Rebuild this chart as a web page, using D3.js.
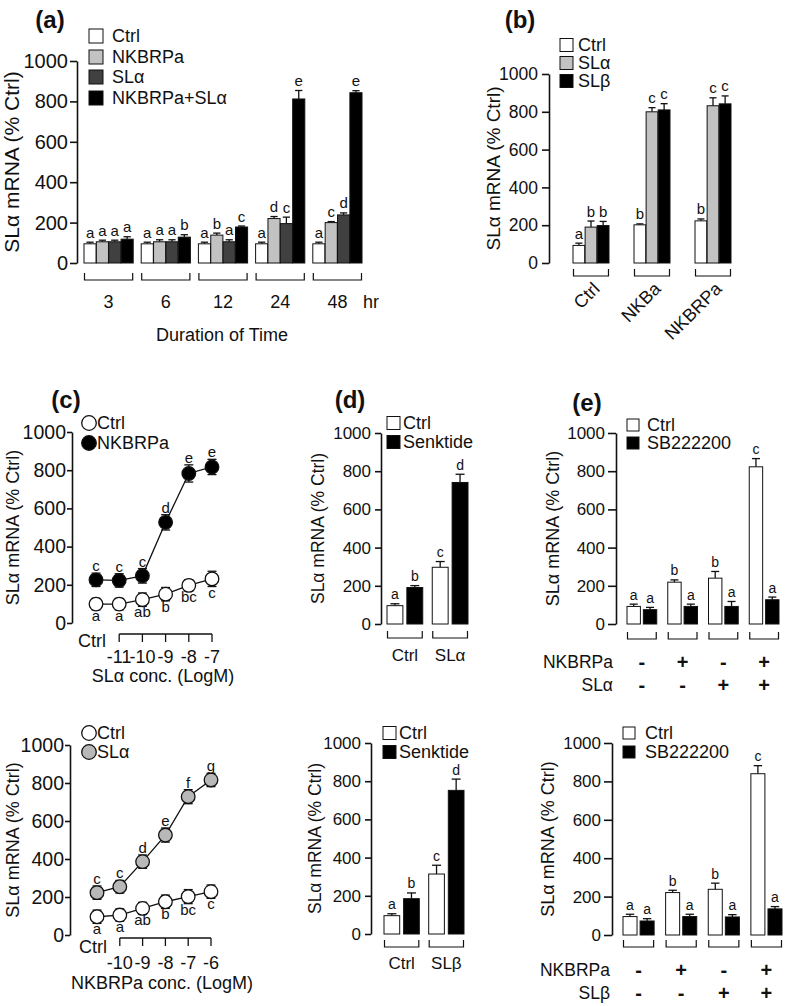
<!DOCTYPE html>
<html><head><meta charset="utf-8">
<script src="https://cdn.jsdelivr.net/npm/d3@7"></script>
<style>body{margin:0;background:#fff}</style>
</head><body>
<script>
const FONT = "'Liberation Sans', Arial, Helvetica, sans-serif";
const INK = "#111";
const yTicks = [0, 200, 400, 600, 800, 1000];
const yTitle = "SLα mRNA (% Ctrl)";

// ---------- Panel (a) ----------
const aGroups = ["3", "6", "12", "24", "48"];
const aSeries = ["Ctrl", "NKBRPa", "SLα", "NKBRPa+SLα"];
const aCtrl = [95, 95, 95, 95, 95];
const aCtrlErr = [8, 8, 8, 8, 8];
const aNKBRPa = [105, 105, 138, 220, 200];
const aNKBRPaErr = [8, 10, 10, 10, 5];
const aSLa = [105, 105, 105, 195, 238];
const aSLaErr = [8, 10, 10, 32, 10];
const aComb = [118, 128, 178, 812, 843];
const aCombErr = [12, 12, 5, 42, 10];
const aLetCtrl = ["a", "a", "a", "a", "a"];
const aLetNKBRPa = ["a", "a", "b", "d", "c"];
const aLetSLa = ["a", "a", "a", "c", "d"];
const aLetComb = ["a", "b", "c", "e", "e"];

// ---------- Panel (b) ----------
const bGroups = ["Ctrl", "NKBa", "NKBRPa"];
const bSeries = ["Ctrl", "SLα", "SLβ"];
const bCtrl = [93, 202, 223];
const bCtrlErr = [12, 5, 10];
const bSLa = [190, 800, 832];
const bSLaErr = [32, 22, 42];
const bSLb = [198, 810, 842];
const bSLbErr = [22, 33, 42];
const bLetCtrl = ["a", "b", "b"];
const bLetSLa = ["b", "c", "c"];
const bLetSLb = ["b", "c", "c"];

// ---------- Panel (c) top ----------
const cTopConc = ["Ctrl", "-11", "-10", "-9", "-8", "-7"];
const cTopSeries = ["Ctrl", "NKBRPa"];
const cTopCtrl = [99, 99, 122, 151, 197, 231];
const cTopCtrlErr = [30, 30, 35, 35, 30, 40];
const cTopNKBRPa = [226, 223, 247, 527, 783, 817];
const cTopNKBRPaErr = [35, 35, 38, 40, 45, 40];
const cTopLetCtrl = ["a", "a", "ab", "b", "bc", "c"];
const cTopLetNKBRPa = ["c", "c", "c", "d", "e", "e"];

// ---------- Panel (c) bottom ----------
const cBotConc = ["Ctrl", "-10", "-9", "-8", "-7", "-6"];
const cBotSeries = ["Ctrl", "SLα"];
const cBotCtrl = [96, 105, 140, 175, 202, 228];
const cBotCtrlErr = [35, 32, 32, 35, 37, 35];
const cBotSLa = [223, 254, 386, 526, 728, 816];
const cBotSLaErr = [35, 33, 35, 37, 37, 35];
const cBotLetCtrl = ["a", "a", "ab", "b", "bc", "c"];
const cBotLetSLa = ["c", "c", "d", "e", "f", "g"];

// ---------- Panel (d) ----------
const dSeries = ["Ctrl", "Senktide"];
const dTopGroups = ["Ctrl", "SLα"];
const dTopCtrl = [96, 297];
const dTopCtrlErr = [10, 30];
const dTopSenk = [191, 741];
const dTopSenkErr = [10, 43];
const dBotGroups = ["Ctrl", "SLβ"];
const dBotCtrl = [96, 314];
const dBotCtrlErr = [10, 46];
const dBotSenk = [185, 752];
const dBotSenkErr = [30, 59];
const dLetCtrl = ["a", "c"];
const dLetSenk = ["b", "d"];

// ---------- Panel (e) ----------
const eSeries = ["Ctrl", "SB222200"];
const eGroups = ["g1", "g2", "g3", "g4"];
const eNKBRPaSigns = ["-", "+", "-", "+"];
const eAgonistSigns = ["-", "-", "+", "+"];
const eTopCtrl = [92, 219, 240, 823];
const eTopCtrlErr = [12, 12, 35, 43];
const eTopSB = [75, 92, 92, 127];
const eTopSBErr = [12, 12, 26, 14];
const eBotCtrl = [96, 221, 238, 840];
const eBotCtrlErr = [12, 12, 32, 42];
const eBotSB = [73, 96, 94, 136];
const eBotSBErr = [12, 12, 12, 12];
const eLetCtrl = ["a", "b", "b", "c"];
const eLetSB = ["a", "a", "a", "a"];

const svg = d3.select("body").append("svg")
  .attr("width", 787).attr("height", 1006).style("display", "block");

function txt(g, x, y, s, size, opts = {}) {
  const t = g.append("text")
    .attr("font-family", FONT).attr("font-size", size).attr("fill", INK)
    .attr("text-anchor", opts.anchor || "middle")
    .attr("dy", opts.dy === undefined ? "0.35em" : opts.dy)
    .text(s);
  if (opts.rotate !== undefined) {
    t.attr("transform", `translate(${x},${y}) rotate(${opts.rotate})`);
  } else {
    t.attr("x", x).attr("y", y);
  }
  if (opts.weight) t.attr("font-weight", opts.weight);
  return t;
}

function yAxis(g, y, axisX, font, tickSize, tickPad) {
  const ax = g.append("g").attr("transform", `translate(${axisX},0)`)
    .call(d3.axisLeft(y).tickValues(yTicks).tickFormat(d3.format("d"))
      .tickSize(tickSize).tickSizeOuter(0).tickPadding(tickPad));
  ax.attr("font-family", FONT).attr("font-size", font);
  ax.select(".domain").attr("stroke", INK).attr("stroke-width", 1.6);
  ax.selectAll(".tick line").attr("stroke", INK).attr("stroke-width", 1.6);
  ax.selectAll(".tick text").attr("fill", INK);
  return ax;
}

function boxLegend(g, items, colors, bx, rows, size, tx, font) {
  items.forEach((it, i) => {
    g.append("rect").attr("x", bx).attr("y", rows[i] - size / 2)
      .attr("width", size).attr("height", size)
      .attr("fill", colors[i]).attr("stroke", INK).attr("stroke-width", 1);
    txt(g, tx, rows[i], it, font, { anchor: "start" });
  });
}

function barPanel(o) {
  const g = svg.append("g");
  const y = d3.scaleLinear().domain([0, 1000]).range([o.y0, o.y1]);
  const xg = d3.scaleBand().domain(o.groups).range(o.xRange).paddingInner(o.gPad).paddingOuter(0);
  const xs = d3.scaleBand().domain(o.series).range([0, xg.bandwidth()]).paddingInner(o.sPad).paddingOuter(0);
  yAxis(g, y, o.axisX, o.tickFont, o.tickSize, o.tickPad);
  txt(g, o.titleX, (o.y0 + o.y1) / 2, yTitle, o.titleFont, { rotate: -90 });
  const w = xs.bandwidth();
  const capW = Math.min(9, w * 0.6);
  o.series.forEach((s, si) => {
    const data = o.groups.map((gr, gi) => ({ gr, v: o.values[si][gi], e: o.errs[si][gi], l: o.letters[si][gi] }));
    const cx = d => xg(d.gr) + xs(s) + w / 2;
    const sg = g.append("g");
    sg.selectAll("line.eb").data(data).join(en => en.append("line").attr("class", "eb"))
      .attr("x1", cx).attr("x2", cx).attr("y1", d => y(d.v)).attr("y2", d => y(d.v + d.e))
      .attr("stroke", INK).attr("stroke-width", 1.3);
    sg.selectAll("line.cap").data(data).join(en => en.append("line").attr("class", "cap"))
      .attr("x1", d => cx(d) - capW / 2).attr("x2", d => cx(d) + capW / 2)
      .attr("y1", d => y(d.v + d.e)).attr("y2", d => y(d.v + d.e))
      .attr("stroke", INK).attr("stroke-width", 1.3);
    sg.selectAll("rect.bar").data(data).join(en => en.append("rect").attr("class", "bar"))
      .attr("x", d => xg(d.gr) + xs(s)).attr("y", d => y(d.v))
      .attr("width", w).attr("height", d => y(0) - y(d.v))
      .attr("fill", o.colors[si]).attr("stroke", INK).attr("stroke-width", 1);
    sg.selectAll("text.let").data(data).join(en => en.append("text").attr("class", "let"))
      .attr("x", cx).attr("y", d => y(d.v + d.e) - 4.5)
      .attr("text-anchor", "middle").attr("font-family", FONT)
      .attr("font-size", o.letterFont).attr("fill", INK).text(d => d.l);
  });
  g.selectAll("path.br").data(o.groups).join(en => en.append("path").attr("class", "br"))
    .attr("d", gr => {
      const x0 = xg(gr) + 0.5, x1 = xg(gr) + xg.bandwidth() - 0.5;
      return `M${x0},${o.bTop}V${o.bBot}H${x1}V${o.bTop}`;
    })
    .attr("fill", "none").attr("stroke", INK).attr("stroke-width", 1.2);
  boxLegend(g, o.series, o.colors, o.legX, o.legRows, o.legBox, o.legTextX, o.legFont);
  return { g, xg, y };
}

function linePanel(o) {
  const g = svg.append("g");
  const y = d3.scaleLinear().domain([0, 1000]).range([o.y0, o.y1]);
  const x = d3.scalePoint().domain(o.conc).range(o.xRange);
  yAxis(g, y, o.axisX, o.tickFont, o.tickSize, o.tickPad);
  txt(g, o.titleX, (o.y0 + o.y1) / 2, yTitle, o.titleFont, { rotate: -90 });
  const cs = o.conc.slice(1);
  g.append("line").attr("x1", x(cs[0])).attr("x2", x(cs[cs.length - 1]))
    .attr("y1", o.bY).attr("y2", o.bY).attr("stroke", INK).attr("stroke-width", 1.3);
  g.selectAll("line.xt").data(cs).join(en => en.append("line").attr("class", "xt"))
    .attr("x1", d => x(d)).attr("x2", d => x(d)).attr("y1", o.bY).attr("y2", o.bY + 8)
    .attr("stroke", INK).attr("stroke-width", 1.3);
  g.selectAll("text.xl").data(cs).join(en => en.append("text").attr("class", "xl"))
    .attr("x", d => x(d)).attr("y", o.labY).attr("dy", "0.35em").attr("text-anchor", "middle")
    .attr("font-family", FONT).attr("font-size", o.labFont).attr("fill", INK).text(d => d);
  txt(g, x(o.conc[0]) - 4, o.ctrlY, "Ctrl", o.labFont);
  txt(g, o.xTitleX, o.xTitleY, o.xTitle, o.labFont);

  const datas = o.series.map((s, si) => o.conc.map((c, ci) => ({
    c, v: o.values[si][ci], e: o.errs[si][ci], l: o.letters[si][ci]
  })));
  const line = d3.line().x(d => x(d.c)).y(d => y(d.v));
  datas.forEach(data => {
    g.append("path").datum(data).attr("d", line).attr("fill", "none")
      .attr("stroke", INK).attr("stroke-width", 1.3);
  });
  datas.forEach((data, si) => {
    const sg = g.append("g");
    sg.selectAll("line.eb").data(data).join(en => en.append("line").attr("class", "eb"))
      .attr("x1", d => x(d.c)).attr("x2", d => x(d.c))
      .attr("y1", d => y(d.v - d.e)).attr("y2", d => y(d.v + d.e))
      .attr("stroke", INK).attr("stroke-width", 1.3);
    [1, -1].forEach(sign => {
      sg.selectAll("line.cap" + (sign > 0 ? "u" : "d")).data(data)
        .join(en => en.append("line").attr("class", "cap" + (sign > 0 ? "u" : "d")))
        .attr("x1", d => x(d.c) - 4.5).attr("x2", d => x(d.c) + 4.5)
        .attr("y1", d => y(d.v + sign * d.e)).attr("y2", d => y(d.v + sign * d.e))
        .attr("stroke", INK).attr("stroke-width", 1.3);
    });
    sg.selectAll("circle").data(data).join("circle")
      .attr("cx", d => x(d.c)).attr("cy", d => y(d.v)).attr("r", o.r)
      .attr("fill", o.colors[si]).attr("stroke", INK).attr("stroke-width", 1.3);
    const above = si === 1;
    sg.selectAll("text.let").data(data).join(en => en.append("text").attr("class", "let"))
      .attr("x", d => x(d.c))
      .attr("y", d => above ? y(d.v + d.e) - 2 : y(d.v - d.e) + 11)
      .attr("text-anchor", "middle").attr("font-family", FONT)
      .attr("font-size", o.letterFont).attr("fill", INK).text(d => d.l);
  });
  o.series.forEach((s, si) => {
    g.append("circle").attr("cx", o.legX).attr("cy", o.legRows[si]).attr("r", 7.3)
      .attr("fill", o.colors[si]).attr("stroke", INK).attr("stroke-width", 1.3);
    txt(g, o.legTextX, o.legRows[si], s, o.legFont, { anchor: "start" });
  });
  return { g, x, y };
}

// ================= Panel (a) =================
const pa = barPanel({
  groups: aGroups, series: aSeries,
  values: [aCtrl, aNKBRPa, aSLa, aComb], errs: [aCtrlErr, aNKBRPaErr, aSLaErr, aCombErr],
  letters: [aLetCtrl, aLetNKBRPa, aLetSLa, aLetComb],
  colors: ["#ffffff", "#c2c2c2", "#404040", "#000000"],
  xRange: [84, 362], gPad: 0.14, sPad: 0.02,
  y0: 263, y1: 61, axisX: 77, tickFont: 20, tickSize: 7, tickPad: 2, titleX: 12, titleFont: 21,
  letterFont: 15, bTop: 273, bBot: 280,
  legX: 89, legRows: [36, 57, 77, 98], legBox: 14, legTextX: 112, legFont: 18
});
aGroups.forEach(gr => txt(pa.g, pa.xg(gr) + pa.xg.bandwidth() / 2, 302, gr, 18));
txt(pa.g, 371, 302, "hr", 18);
txt(pa.g, 222, 335, "Duration of Time", 18);
txt(pa.g, 50, 20, "(a)", 24, { weight: "bold" });

// ================= Panel (b) =================
const pb = barPanel({
  groups: bGroups, series: bSeries,
  values: [bCtrl, bSLa, bSLb], errs: [bCtrlErr, bSLaErr, bSLbErr],
  letters: [bLetCtrl, bLetSLa, bLetSLb],
  colors: ["#ffffff", "#c2c2c2", "#000000"],
  xRange: [573, 731], gPad: 0.41, sPad: 0.03,
  y0: 263, y1: 74, axisX: 549, tickFont: 17.5, tickSize: 7, tickPad: 4, titleX: 493, titleFont: 19,
  letterFont: 15, bTop: 269, bBot: 276,
  legX: 560, legRows: [45, 63, 81], legBox: 13, legTextX: 578, legFont: 18
});
bGroups.forEach(gr => txt(pb.g, pb.xg(gr) + pb.xg.bandwidth() / 2 + 1, 281, gr, 18,
  { anchor: "end", rotate: -45, dy: "0.7em" }));
txt(pb.g, 520, 20, "(b)", 24, { weight: "bold" });

// ================= Panel (c) =================
const pcTop = linePanel({
  conc: cTopConc, series: cTopSeries,
  values: [cTopCtrl, cTopNKBRPa], errs: [cTopCtrlErr, cTopNKBRPaErr],
  letters: [cTopLetCtrl, cTopLetNKBRPa],
  colors: ["#ffffff", "#000000"],
  xRange: [96, 212], y0: 623, y1: 432, axisX: 72, tickFont: 19.5, tickSize: 5, tickPad: 1,
  titleX: 13, titleFont: 18,
  bY: 634, labY: 657, ctrlY: 641, labFont: 18, xTitle: "SLα conc. (LogM)", xTitleX: 163, xTitleY: 676,
  r: 6.8, letterFont: 15, legX: 89, legRows: [423, 443], legTextX: 97, legFont: 18
});
txt(pcTop.g, 66, 400, "(c)", 24, { weight: "bold" });

const pcBot = linePanel({
  conc: cBotConc, series: cBotSeries,
  values: [cBotCtrl, cBotSLa], errs: [cBotCtrlErr, cBotSLaErr],
  letters: [cBotLetCtrl, cBotLetSLa],
  colors: ["#ffffff", "#b8b8b8"],
  xRange: [97, 211], y0: 935, y1: 745, axisX: 70, tickFont: 19.5, tickSize: 5, tickPad: 1,
  titleX: 13, titleFont: 18,
  bY: 938, labY: 963, ctrlY: 947, labFont: 18, xTitle: "NKBRPa conc. (LogM)", xTitleX: 162, xTitleY: 983,
  r: 6.8, letterFont: 15, legX: 89, legRows: [733, 752], legTextX: 97, legFont: 18
});

// ================= Panel (d) =================
const pdTop = barPanel({
  groups: dTopGroups, series: dSeries,
  values: [dTopCtrl, dTopSenk], errs: [dTopCtrlErr, dTopSenkErr],
  letters: [dLetCtrl, dLetSenk],
  colors: ["#ffffff", "#000000"],
  xRange: [387, 468], gPad: 0.21, sPad: 0.2,
  y0: 624, y1: 433, axisX: 381, tickFont: 17, tickSize: 6, tickPad: 4, titleX: 318, titleFont: 17.5,
  letterFont: 14, bTop: 631, bBot: 638,
  legX: 387, legRows: [423, 442], legBox: 13, legTextX: 403, legFont: 18
});
dTopGroups.forEach(gr => txt(pdTop.g, pdTop.xg(gr) + pdTop.xg.bandwidth() / 2, 655, gr, 17));
txt(pdTop.g, 350, 400, "(d)", 24, { weight: "bold" });

const pdBot = barPanel({
  groups: dBotGroups, series: dSeries,
  values: [dBotCtrl, dBotSenk], errs: [dBotCtrlErr, dBotSenkErr],
  letters: [dLetCtrl, dLetSenk],
  colors: ["#ffffff", "#000000"],
  xRange: [384, 464], gPad: 0.21, sPad: 0.2,
  y0: 934, y1: 743, axisX: 371, tickFont: 17, tickSize: 6, tickPad: 4, titleX: 315, titleFont: 17.5,
  letterFont: 14, bTop: 940, bBot: 947,
  legX: 383, legRows: [733, 752], legBox: 13, legTextX: 399, legFont: 18
});
dBotGroups.forEach(gr => txt(pdBot.g, pdBot.xg(gr) + pdBot.xg.bandwidth() / 2, 963, gr, 17));

// ================= Panel (e) =================
const peTop = barPanel({
  groups: eGroups, series: eSeries,
  values: [eTopCtrl, eTopSB], errs: [eTopCtrlErr, eTopSBErr],
  letters: [eLetCtrl, eLetSB],
  colors: ["#ffffff", "#000000"],
  xRange: [627, 779], gPad: 0.27, sPad: 0.18,
  y0: 624, y1: 433, axisX: 616, tickFont: 17, tickSize: 8, tickPad: 3, titleX: 553, titleFont: 18,
  letterFont: 14, bTop: 632, bBot: 639,
  legX: 627, legRows: [425, 443], legBox: 12, legTextX: 647, legFont: 18
});
txt(peTop.g, 613, 662, "NKBRPa", 17.5, { anchor: "end" });
txt(peTop.g, 613, 685, "SLα", 17.5, { anchor: "end" });
eGroups.forEach((gr, i) => {
  const cx = peTop.xg(gr) + peTop.xg.bandwidth() / 2;
  txt(peTop.g, cx, 662, eNKBRPaSigns[i], 20, { weight: "bold" });
  txt(peTop.g, cx, 685, eAgonistSigns[i], 20, { weight: "bold" });
});
txt(peTop.g, 587, 403, "(e)", 24, { weight: "bold" });

const peBot = barPanel({
  groups: eGroups, series: eSeries,
  values: [eBotCtrl, eBotSB], errs: [eBotCtrlErr, eBotSBErr],
  letters: [eLetCtrl, eLetSB],
  colors: ["#ffffff", "#000000"],
  xRange: [623, 782], gPad: 0.27, sPad: 0.18,
  y0: 935, y1: 743, axisX: 612, tickFont: 17, tickSize: 8, tickPad: 3, titleX: 548, titleFont: 18,
  letterFont: 14, bTop: 940, bBot: 947,
  legX: 623, legRows: [733, 752], legBox: 12, legTextX: 645, legFont: 18
});
txt(peBot.g, 610, 970, "NKBRPa", 17.5, { anchor: "end" });
txt(peBot.g, 610, 993, "SLβ", 17.5, { anchor: "end" });
eGroups.forEach((gr, i) => {
  const cx = peBot.xg(gr) + peBot.xg.bandwidth() / 2;
  txt(peBot.g, cx, 970, eNKBRPaSigns[i], 20, { weight: "bold" });
  txt(peBot.g, cx, 993, eAgonistSigns[i], 20, { weight: "bold" });
});
</script>
</body></html>
